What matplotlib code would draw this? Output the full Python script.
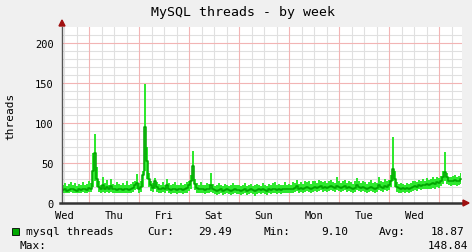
import matplotlib
matplotlib.use("Agg")
import matplotlib.pyplot as plt
import matplotlib.patches as mpatches
import numpy as np

title = "MySQL threads - by week"
ylabel = "threads"
day_labels = ["Wed", "Thu", "Fri", "Sat", "Sun", "Mon", "Tue", "Wed"]
y_ticks = [0, 50, 100, 150, 200]
series_name = "mysql threads"
stat_cur, stat_min, stat_avg, stat_max = "29.49", "9.10", "18.87", "148.84"

avg = [16,17,15,16,18,17,16,15,17,16,18,17,16,19,18,
       40,63,30,
       20,17,22,18,20,17,21,18,17,16,18,17,16,17,18,16,17,19,
       22,25,
       18,20,
       35,95,52,30,
       22,19,28,20,
       18,17,19,17,23,18,16,17,18,16,17,18,16,17,19,
       22,28,46,24,
       19,18,17,18,16,17,18,
       22,
       17,16,15,16,17,15,16,17,16,15,16,17,16,
       16,15,16,17,15,16,17,16,15,16,17,16,17,16,15,17,16,17,18,16,17,16,17,18,17,
       18,17,18,19,21,18,19,18,19,20,19,18,19,20,19,20,21,19,20,19,20,21,20,19,21,
       20,19,20,21,19,20,19,18,19,22,20,19,20,19,18,19,20,19,18,19,22,20,19,21,20,22,
       28,42,30,
       20,19,18,19,18,19,18,19,20,
       21,20,22,21,23,22,24,23,24,25,24,26,25,27,
       33,39,32,
       28,27,28,29,27,28,29.49]

hi = [23,25,21,24,26,22,25,21,24,23,26,22,24,27,25,
      62,86,45,
      27,23,33,25,29,22,30,24,23,26,24,22,25,23,27,22,24,26,
      28,36,
      25,27,
      40,148.84,70,38,
      27,25,31,26,
      24,22,26,23,30,25,22,24,26,22,23,25,22,24,26,
      27,35,65,30,
      25,23,26,23,22,25,24,
      38,
      24,21,22,25,22,21,24,22,21,23,25,22,23,
      23,21,22,25,21,23,24,21,22,24,23,21,25,22,21,24,22,25,26,22,24,22,23,26,23,
      24,23,26,25,29,24,26,24,27,26,28,24,27,28,25,29,28,26,27,25,28,29,26,25,32,
      27,25,28,29,25,27,26,24,27,31,28,25,27,26,24,26,29,25,26,25,32,28,26,30,27,29,
      35,82,40,
      26,24,25,24,23,25,24,25,27,
      28,26,29,27,30,28,31,29,30,32,30,33,31,34,
      40,64,38,
      33,32,34,35,32,34,37]

lo = [13,13,12,13,14,13,12,12,13,13,14,13,12,14,14,
      20,28,20,
      14,13,14,13,14,13,14,13,13,12,13,13,12,13,13,12,13,14,
      16,18,
      13,14,
      20,40,30,20,
      15,14,18,14,
      13,12,14,12,15,13,11,12,13,11,12,13,11,12,13,
      15,18,28,16,
      13,12,12,13,11,12,12,
      14,
      12,11,10,11,12,10,11,12,11,10,11,12,11,
      11,10,11,12,10,11,12,11,9.1,11,12,11,12,11,10,12,11,12,13,11,12,11,12,13,12,
      13,12,13,14,15,13,14,13,14,15,14,13,14,15,14,15,16,14,15,14,15,16,15,14,16,
      15,14,15,16,14,15,14,13,14,16,15,14,15,14,13,14,15,14,13,14,16,15,14,16,15,16,
      20,28,20,
      14,13,13,14,13,14,13,14,15,
      16,15,17,16,18,17,18,17,18,19,18,20,19,21,
      24,28,24,
      22,21,22,23,21,22,24]

W, H = 472, 253
mono = "DejaVu Sans Mono"
fig = plt.figure(figsize=(W/100, H/100), dpi=100, facecolor="#f0f0f0")
ax = fig.add_axes([62/W, (H-204)/H, 400/W, 176/H])
ax.set_facecolor("white")

t0 = 11.0
step = 192.0 / len(avg)
t = t0 + (np.arange(len(avg)) + 0.5) * step
ax.fill_between(t, lo, hi, step="mid", color="#2ee82e", lw=0, zorder=3)
ax.step(t, avg, where="mid", color="#00a400", lw=1.1, zorder=4)

ax.set_xlim(t0, t0 + 192)
ax.set_ylim(0, 220)

# grid
for h in np.arange(0, 240, 6):
    if t0 < h < t0 + 192:
        major = (h % 24 == 0)
        ax.axvline(h, color="#f2b4b4" if major else "#e0e0e0", lw=0.8, zorder=2 if major else 1)
for v in range(10, 220, 10):
    major = (v % 50 == 0)
    ax.axhline(v, color="#f2b4b4" if major else "#e0e0e0", lw=0.8, zorder=2 if major else 1)

for s in ax.spines.values():
    s.set_visible(False)

ax.set_xticks([12 + 24*k for k in range(len(day_labels))])
ax.set_xticklabels(day_labels)
ax.set_yticks(y_ticks)
ax.set_yticklabels([str(v) for v in y_ticks])
ax.tick_params(axis="both", length=0, labelsize=7.5, colors="#000000")
ax.tick_params(axis="x", pad=5)
ax.tick_params(axis="y", pad=6)
for lab in ax.get_xticklabels() + ax.get_yticklabels():
    lab.set_family(mono)

# axis lines
ax.plot([0, 0], [0, 1.0], transform=ax.transAxes, color="#555555", lw=1, clip_on=False, zorder=6)
ax.plot([-0.005, 1.005], [0, 0], transform=ax.transAxes, color="#333333", lw=1.8, clip_on=False, zorder=6)
fig.patches.append(mpatches.Polygon(
    [[59/W, (H-27)/H], [65/W, (H-27)/H], [62/W, (H-21)/H]], closed=True,
    transform=fig.transFigure, color="#a01010", zorder=10))
fig.patches.append(mpatches.Polygon(
    [[463/W, (H-201)/H], [463/W, (H-207)/H], [469/W, (H-204)/H]], closed=True,
    transform=fig.transFigure, color="#a01010", zorder=10))

fig.text(243/W, (H-12.5)/H, title, ha="center", va="center", fontsize=9.5, family=mono)
fig.text(10/W, (H-116)/H, ylabel, ha="center", va="center", rotation=90, fontsize=8, family=mono)

# legend
fig.patches.append(mpatches.Rectangle((12/W, (H-236)/H), 7/W, 7/H,
                   transform=fig.transFigure, facecolor="#00a800", edgecolor="black", lw=0.6))
ly = (H-232)/H
fig.text(26/W, ly, series_name, ha="left", va="center", fontsize=8, family=mono)
fig.text(147/W, ly, "Cur:", ha="left", va="center", fontsize=8, family=mono)
fig.text(232/W, ly, stat_cur, ha="right", va="center", fontsize=8, family=mono)
fig.text(263/W, ly, "Min:", ha="left", va="center", fontsize=8, family=mono)
fig.text(348/W, ly, stat_min, ha="right", va="center", fontsize=8, family=mono)
fig.text(379/W, ly, "Avg:", ha="left", va="center", fontsize=8, family=mono)
fig.text(464/W, ly, stat_avg, ha="right", va="center", fontsize=8, family=mono)
ly2 = (H-246)/H
fig.text(19/W, ly2, "Max:", ha="left", va="center", fontsize=8, family=mono)
fig.text(468/W, ly2, stat_max, ha="right", va="center", fontsize=8, family=mono)

fig.savefig("out.png", dpi=100, facecolor=fig.get_facecolor())
